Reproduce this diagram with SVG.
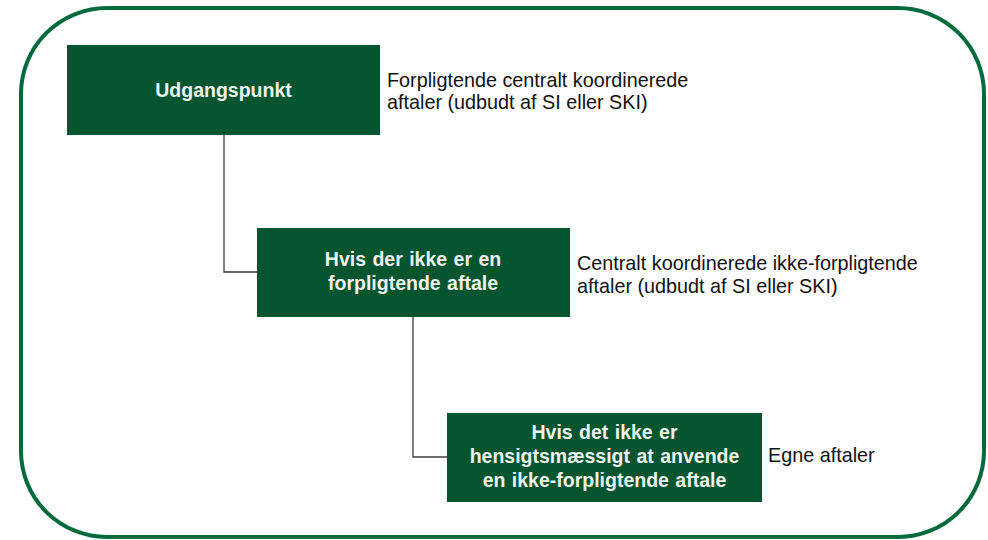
<svg xmlns="http://www.w3.org/2000/svg" width="988" height="540" viewBox="0 0 988 540">
<style>
.box{fill:#03552f}
.bt{font-family:"Liberation Sans",Arial,sans-serif;font-size:19.5px;font-weight:bold;fill:#f2f2f2;text-anchor:middle;word-spacing:1px}
.lt{font-family:"Liberation Sans",Arial,sans-serif;font-size:19.8px;fill:#111}
.con{fill:none;stroke:#3a3a3a;stroke-width:1.3}
</style>
<rect x="0" y="0" width="988" height="540" fill="#fff"/>
<rect id="frame" x="21" y="8" width="963" height="529" rx="86" ry="86" fill="none" stroke="#036a3e" stroke-width="4"/>
<g id="connectors">
<polyline class="con" points="224,135 224,272 257,272"/>
<polyline class="con" points="413,317 413,457 447,457"/>
</g>
<g id="node1">
<rect class="box" x="67" y="45" width="313" height="90"/>
<text class="bt" x="223.5" y="97">Udgangspunkt</text>
</g>
<g id="label1">
<text class="lt" x="387" y="87">Forpligtende centralt koordinerede</text>
<text class="lt" x="387" y="109">aftaler (udbudt af SI eller SKI)</text>
</g>
<g id="node2">
<rect class="box" x="257" y="228" width="313" height="89"/>
<text class="bt" x="413" y="266">Hvis der ikke er en</text>
<text class="bt" x="413" y="290">forpligtende aftale</text>
</g>
<g id="label2">
<text class="lt" x="577" y="270">Centralt koordinerede ikke-forpligtende</text>
<text class="lt" x="577" y="293">aftaler (udbudt af SI eller SKI)</text>
</g>
<g id="node3">
<rect class="box" x="447" y="413" width="315" height="89"/>
<text class="bt" x="604.5" y="439">Hvis det ikke er</text>
<text class="bt" x="604.5" y="463">hensigtsmæssigt at anvende</text>
<text class="bt" x="604.5" y="487">en ikke-forpligtende aftale</text>
</g>
<g id="label3">
<text class="lt" x="768" y="462">Egne aftaler</text>
</g>
</svg>
